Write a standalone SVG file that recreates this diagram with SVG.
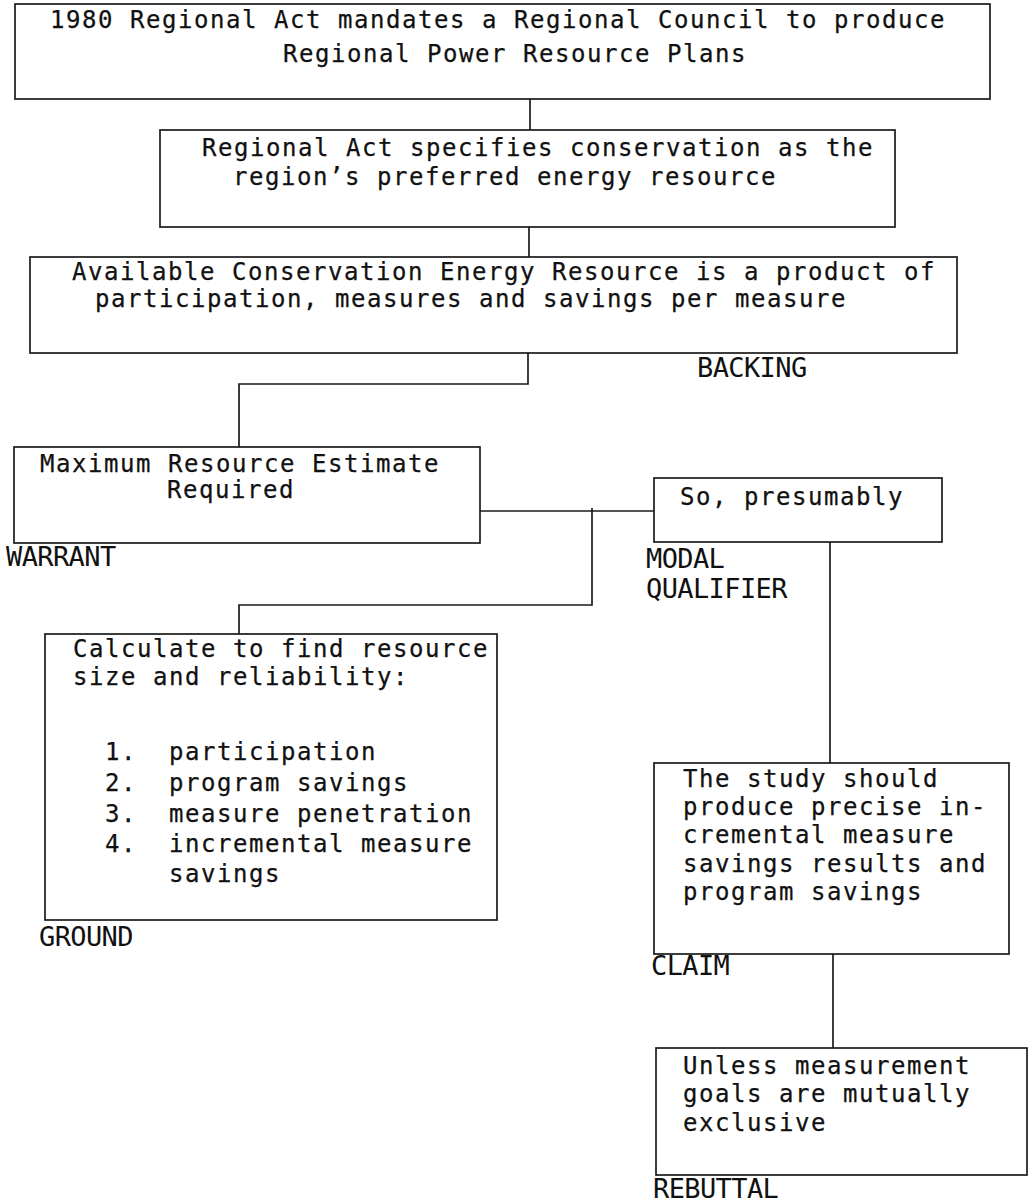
<svg xmlns="http://www.w3.org/2000/svg" width="1029" height="1204" viewBox="0 0 1029 1204">
<style>
.box{fill:none;stroke:#1a1a1a;stroke-width:1.7}
.con{fill:none;stroke:#1a1a1a;stroke-width:1.7}
.t{font-family:"DejaVu Sans Mono","Liberation Mono",monospace;font-size:24px;letter-spacing:1.55px;fill:#111;stroke:#111;stroke-width:0.25}
.lbl{font-family:"DejaVu Sans Mono","Liberation Mono",monospace;font-size:27px;letter-spacing:-0.6px;fill:#111}
</style>
<rect width="1029" height="1204" fill="#fff"/>
<g id="connectors">
<path class="con" d="M530 99V130"/>
<path class="con" d="M529 227V257"/>
<path class="con" d="M528 353V384H239V447"/>
<path class="con" d="M480 511H654"/>
<path class="con" d="M592 508V605H239V634"/>
<path class="con" d="M830 542V763"/>
<path class="con" d="M833 954V1048"/>
</g>
<g id="act1980">
<rect class="box" x="15" y="4" width="975" height="95"/>
<text class="t" x="50" y="28">1980 Regional Act mandates a Regional Council to produce</text>
<text class="t" x="283" y="62">Regional Power Resource Plans</text>
</g>
<g id="conservation">
<rect class="box" x="160" y="130" width="735" height="97"/>
<text class="t" x="202" y="156">Regional Act specifies conservation as the</text>
<text class="t" x="233" y="185">region’s preferred energy resource</text>
</g>
<g id="backing">
<rect class="box" x="30" y="257" width="927" height="96"/>
<text class="t" x="72" y="280">Available Conservation Energy Resource is a product of</text>
<text class="t" x="95" y="307">participation, measures and savings per measure</text>
<text class="lbl" x="697" y="377">BACKING</text>
</g>
<g id="warrant">
<rect class="box" x="14" y="447" width="466" height="96"/>
<text class="t" x="40" y="472">Maximum Resource Estimate</text>
<text class="t" x="167" y="498">Required</text>
<text class="lbl" x="6" y="566">WARRANT</text>
</g>
<g id="qualifier">
<rect class="box" x="654" y="478" width="288" height="64"/>
<text class="t" x="680" y="505">So, presumably</text>
<text class="lbl" x="646" y="568">MODAL</text>
<text class="lbl" x="646" y="598">QUALIFIER</text>
</g>
<g id="ground">
<rect class="box" x="45" y="634" width="452" height="286"/>
<text class="t" x="73" y="657">Calculate to find resource</text>
<text class="t" x="73" y="685">size and reliability:</text>
<text class="t" x="105" y="760">1.<tspan x="169">participation</tspan></text>
<text class="t" x="105" y="791">2.<tspan x="169">program savings</tspan></text>
<text class="t" x="105" y="822">3.<tspan x="169">measure penetration</tspan></text>
<text class="t" x="105" y="852">4.<tspan x="169">incremental measure</tspan></text>
<text class="t" x="169" y="882">savings</text>
<text class="lbl" x="39" y="946">GROUND</text>
</g>
<g id="claim">
<rect class="box" x="654" y="763" width="355" height="191"/>
<text class="t" x="683" y="787">The study should</text>
<text class="t" x="683" y="815">produce precise in-</text>
<text class="t" x="683" y="843">cremental measure</text>
<text class="t" x="683" y="872">savings results and</text>
<text class="t" x="683" y="900">program savings</text>
<text class="lbl" x="651" y="975">CLAIM</text>
</g>
<g id="rebuttal">
<rect class="box" x="656" y="1048" width="371" height="127"/>
<text class="t" x="683" y="1074">Unless measurement</text>
<text class="t" x="683" y="1102">goals are mutually</text>
<text class="t" x="683" y="1131">exclusive</text>
<text class="lbl" x="653" y="1198">REBUTTAL</text>
</g>
</svg>
